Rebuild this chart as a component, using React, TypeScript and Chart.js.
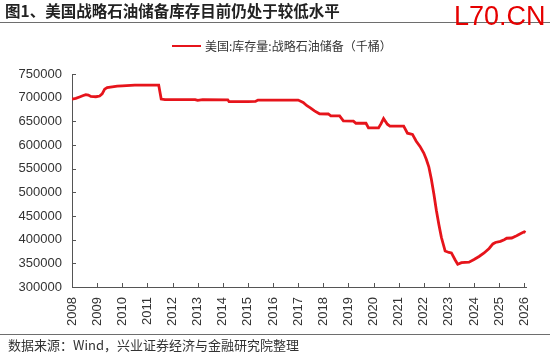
import React, { useEffect, useRef } from "react";
import { Chart, registerables } from "chart.js";

Chart.register(...registerables);

// x positions (decimal years) of the points
const dates = [
  2008.0, 2008.15, 2008.3, 2008.45, 2008.55, 2008.65, 2008.75, 2008.95,
  2009.1, 2009.2, 2009.3, 2009.4, 2009.6, 2009.8, 2010.0, 2010.5, 2011.0, 2011.45,
  2011.55, 2011.7, 2012.5, 2012.9, 2013.0, 2013.2, 2014.2, 2014.25, 2015.0, 2015.3,
  2015.4, 2016.0, 2016.5, 2017.0, 2017.2, 2017.35, 2017.5, 2017.65, 2017.85, 2018.2,
  2018.3, 2018.65, 2018.8, 2019.2, 2019.3, 2019.7, 2019.8, 2020.2, 2020.3, 2020.4,
  2020.55, 2020.65, 2021.2, 2021.35, 2021.55, 2021.7, 2021.85, 2022.0, 2022.1, 2022.2,
  2022.3, 2022.4, 2022.5, 2022.6, 2022.7, 2022.85, 2023.0, 2023.1, 2023.25, 2023.35,
  2023.5, 2023.8, 2024.0, 2024.2, 2024.4, 2024.6, 2024.75, 2024.85, 2025.05, 2025.2,
  2025.3, 2025.5, 2025.65, 2025.75, 2025.9, 2026.0, 2026.05,
];

// 美国:库存量:战略石油储备（千桶）
const sprStock = [
  697000, 698500, 701500, 704500, 706500, 705500, 702500, 702000,
  703500, 708000, 718000, 721500, 723000, 724500, 725000, 726500, 726500, 726500,
  697000, 696000, 696000, 696000, 694500, 696000, 695500, 691500, 691500, 692000,
  695000, 695000, 695000, 695000, 690000, 683000, 678000, 672000, 666000, 665500,
  661500, 661500, 651000, 650500, 646000, 646000, 636000, 636000, 645000, 656000,
  644000, 640000, 640000, 625000, 622500, 608000, 597000, 583000, 570000, 554000,
  528000, 497000, 462000, 432000, 405000, 376000, 373000, 372000, 357000, 348000,
  351500, 352500, 358000, 364500, 372000, 381500, 391000, 394000, 396500, 400000,
  403000, 403500, 407000, 410000, 414000, 416500, 415000,
];

const yearTicks = [
  2008, 2009, 2010, 2011, 2012, 2013, 2014, 2015, 2016, 2017,
  2018, 2019, 2020, 2021, 2022, 2023, 2024, 2025, 2026,
];
const valueTicks = [300000, 350000, 400000, 450000, 500000, 550000, 600000, 650000, 700000, 750000];

const RED = "#e6141b";
const AXIS = "#555555";
const TEXT = "#333333";
const FONT = "'Liberation Sans', Arial, 'Noto Sans CJK SC', sans-serif";
const CJK = "'Noto Sans CJK SC', 'Liberation Sans', sans-serif";

export default function App() {
  const ref = useRef<HTMLCanvasElement>(null);

  useEffect(() => {
    if (!ref.current) return;
    const inwardTicks = {
      id: "inwardTicks",
      beforeDatasetsDraw(chart: any) {
        const { ctx, chartArea, scales } = chart;
        ctx.save();
        ctx.strokeStyle = AXIS;
        ctx.lineWidth = 1;
        yearTicks.forEach((yr) => {
          const x = Math.round(scales.x.getPixelForValue(yr)) + 0.5;
          ctx.beginPath();
          ctx.moveTo(x, chartArea.bottom);
          ctx.lineTo(x, chartArea.bottom - 4);
          ctx.stroke();
        });
        valueTicks.forEach((v) => {
          const y = Math.round(scales.y.getPixelForValue(v)) + 0.5;
          ctx.beginPath();
          ctx.moveTo(chartArea.left, y);
          ctx.lineTo(chartArea.left + 4, y);
          ctx.stroke();
        });
        ctx.restore();
      },
    };

    const chart = new Chart(ref.current, {
      type: "line",
      data: {
        datasets: [
          {
            label: "美国:库存量:战略石油储备（千桶）",
            data: dates.map((d, i) => ({ x: d, y: sprStock[i] })),
            borderColor: RED,
            borderWidth: 2.8,
            pointRadius: 0,
            tension: 0,
            fill: false,
          },
        ],
      },
      options: {
        responsive: false,
        animation: false,
        layout: { padding: { top: 74, right: 20, bottom: 26, left: 0 } },
        plugins: { legend: { display: false }, tooltip: { enabled: false } },
        scales: {
          x: {
            type: "linear",
            min: 2008,
            max: 2026.1,
            afterBuildTicks: (s: any) => {
              s.ticks = yearTicks.map((v) => ({ value: v }));
            },
            afterFit: (s: any) => {
              s.height = 40;
            },
            grid: { display: false, drawTicks: false },
            border: { display: true, color: AXIS, width: 1 },
            ticks: {
              minRotation: 90,
              maxRotation: 90,
              padding: 10,
              color: TEXT,
              font: { size: 13, family: FONT },
              callback: (v: any) => String(v),
            },
          },
          y: {
            min: 300000,
            max: 750000,
            afterBuildTicks: (s: any) => {
              s.ticks = valueTicks.map((v) => ({ value: v }));
            },
            afterFit: (s: any) => {
              s.width = 72;
            },
            grid: { display: false, drawTicks: false },
            border: { display: true, color: AXIS, width: 1 },
            ticks: {
              padding: 10,
              color: TEXT,
              font: { size: 13, family: FONT },
              callback: (v: any) => String(v),
            },
          },
        },
      },
      plugins: [inwardTicks],
    });
    return () => chart.destroy();
  }, []);

  return (
    <div style={{ position: "fixed", left: 0, top: 0, width: 550, height: 353, background: "#fff", overflow: "hidden" }}>
      <canvas ref={ref} width={550} height={353} style={{ position: "absolute", left: 0, top: 0 }} />
      <div style={{ position: "absolute", left: 5, top: -1, fontFamily: CJK, fontWeight: 700, fontSize: 15.5, color: "#222", whiteSpace: "nowrap", lineHeight: "22px" }}>
        图1、美国战略石油储备库存目前仍处于较低水平
      </div>
      <div style={{ position: "absolute", left: 0, top: 22, width: 550, height: 0, borderTop: "1px solid #6e6e6e" }} />
      <div style={{ position: "absolute", left: 454, top: 0, fontFamily: FONT, fontSize: 27, color: "#e60000", lineHeight: "32px", whiteSpace: "nowrap" }}>
        L70.CN
      </div>
      <div style={{ position: "absolute", left: 172, top: 37, display: "flex", alignItems: "center", whiteSpace: "nowrap", fontFamily: CJK, fontSize: 12, color: TEXT, lineHeight: "18px" }}>
        <span style={{ display: "inline-block", width: 29, height: 2.5, background: RED, marginRight: 4 }} />
        <span>美国:库存量:战略石油储备（千桶）</span>
      </div>
      <div style={{ position: "absolute", left: 0, top: 334, width: 550, height: 0, borderTop: "1px solid #6e6e6e" }} />
      <div style={{ position: "absolute", left: 8, top: 336, fontFamily: CJK, fontSize: 13, color: TEXT, lineHeight: "18px", whiteSpace: "nowrap" }}>
        数据来源：Wind，兴业证券经济与金融研究院整理
      </div>
    </div>
  );
}
